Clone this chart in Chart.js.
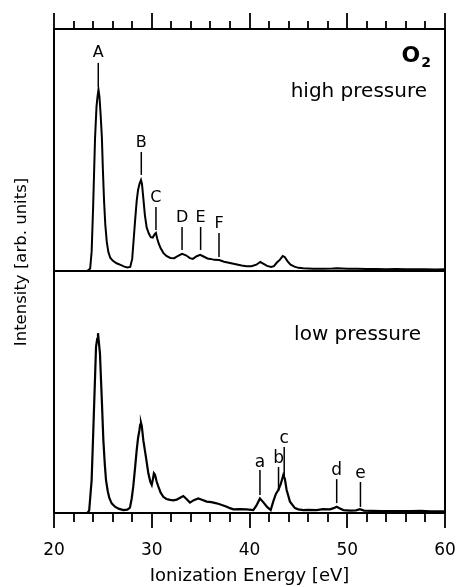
<!DOCTYPE html>
<html>
<head>
<meta charset="utf-8">
<style>
html,body{margin:0;padding:0;background:#fff;}
#wrap{width:458px;height:587px;position:relative;}
</style>
<script src="https://cdn.jsdelivr.net/npm/chart.js@4.4.0/dist/chart.umd.min.js"></script>
</head>
<body>
<div id="wrap"><canvas id="c" width="458" height="587"></canvas></div>
<script>
// ---- Data ----
const xTickValues = [20, 30, 40, 50, 60];

const highE = [20.0,23.4,23.7,23.85,24.0,24.2,24.35,24.45,24.55,24.65,24.75,24.9,25.0,25.12,25.25,25.4,25.55,25.75,26.0,26.4,26.8,27.2,27.5,27.8,28.0,28.15,28.3,28.46,28.6,28.75,28.9,29.0,29.14,29.3,29.48,29.7,29.9,30.1,30.3,30.43,30.55,30.7,30.9,31.2,31.5,31.9,32.3,32.7,33.1,33.5,33.9,34.2,34.6,34.95,35.3,35.7,36.0,36.4,36.9,37.4,38.0,38.6,39.2,39.7,40.2,40.7,41.1,41.4,41.8,42.2,42.5,42.8,43.1,43.4,43.6,43.9,44.2,44.6,45.0,45.5,46.5,47.5,48.5,49.0,50,51,52,53,54,55,56,57,58,59,60];
const highI = [0,0,1,8,26,55,68,72,75,72,66,55,42,29,19,12,8,5.5,4.3,3.2,2.5,1.8,1.5,1.7,5,13,21,29,33.5,36,37.6,36,30,23,18,15.5,14,13.8,15.2,15.7,13.5,11.5,9.5,7.4,6.2,5.4,5.3,6.3,7.1,6.5,5.3,5.0,6.1,6.7,6.0,5.2,5.0,4.6,4.5,3.8,3.3,2.8,2.3,2.0,2.0,2.6,3.7,3.0,2.1,1.7,2.0,3.5,4.6,6.2,5.8,4.0,2.6,1.8,1.3,1.1,0.9,0.9,1.0,1.1,0.9,0.9,0.8,0.8,0.7,0.8,0.7,0.7,0.7,0.6,0.7];

const lowE = [20,23.4,23.6,23.85,24.02,24.19,24.3,24.42,24.5,24.58,24.7,24.88,25.05,25.2,25.32,25.5,25.66,25.9,26.24,26.6,27.09,27.5,27.77,27.95,28.11,28.3,28.46,28.6,28.73,28.82,28.9,28.98,29.06,29.14,29.41,29.65,29.85,30.0,30.12,30.22,30.33,30.5,30.67,30.9,31.18,31.5,31.87,32.2,32.55,32.9,33.23,33.5,33.91,34.3,34.76,35.2,35.62,36.1,36.64,37.1,37.67,38.0,38.35,39,39.71,40.39,40.7,41.07,41.4,41.8,42.17,42.45,42.71,42.95,43.2,43.46,43.62,43.8,44.14,44.65,45.0,45.5,46,46.87,47.5,48.24,48.6,48.92,49.2,49.6,50.3,50.9,51.3,51.7,52.5,53.5,54.5,55.5,56.5,57.5,58.5,59.5,60];
const lowI = [0,0,1,13.6,34,55,68.7,72,74.3,71,66,48,30,20,13.6,9,6.2,4,2.6,1.8,1.2,1.4,2.2,6,11,19,26,31,34,36.5,37.3,36,33,30,23,16.4,13,11.6,14,16.4,15.8,13,11,8.5,6.7,5.8,5.4,5.2,5.5,6.3,7,6,4.3,5.3,6,5.4,4.7,4.5,4,3.4,2.6,2.0,1.5,1.6,1.5,1.2,3,6,4.5,2.5,1.2,5,8,9.5,12,15.7,14,9.5,4.7,2,1.5,1.2,1.3,1.2,1.6,1.5,2.0,2.6,2.0,1.2,1.0,1.1,1.6,1.0,0.9,0.8,0.8,0.8,0.8,0.9,0.7,0.7,0.7];

// Peak annotations: label, energy, text baseline, line top, line bottom (intensity units)
const highLabels = ['A','B','C','D','E','F'];
const highLabelE = [24.53, 28.93, 30.43, 33.1, 35.0, 36.88];
const highLabelText = [88.4, 51.4, 28.6, 20.4, 20.4, 17.6];
const highLineTop = [86, 49.2, 26.4, 18.2, 18.2, 15.7];
const highLineBot = [76, 39.7, 16.9, 8.7, 8.7, 5.8];

const lowLabels = ['a','b','c','d','e'];
const lowLabelE = [41.07, 42.97, 43.55, 48.92, 51.35];
const lowLabelText = [19.1, 20.5, 28.8, 15.7, 14.3];
const lowLineTop = [17.8, 19.0, 27.3, 14.0, 12.8];
const lowLineBot = [7.4, 9.1, 15.3, 4.1, 2.5];

const FONT = "'DejaVu Sans', sans-serif";

function pts(xs, ys){ return xs.map((x,i)=>({x:x, y:ys[i]})); }

const framePlugin = {
  id: 'frame',
  afterDraw(chart){
    const ctx = chart.ctx;
    const xs = chart.scales.x, yt = chart.scales.yTop, yb = chart.scales.yBot;
    const L = chart.chartArea.left, R = chart.chartArea.right;
    const top = yt.top, mid = yt.bottom, bot = yb.bottom;
    ctx.save();
    ctx.strokeStyle = '#000';
    ctx.lineWidth = 2;
    ctx.beginPath();
    ctx.moveTo(L, top); ctx.lineTo(R, top);
    ctx.moveTo(L, mid); ctx.lineTo(R, mid);
    ctx.moveTo(L, bot); ctx.lineTo(R, bot);
    ctx.moveTo(L, top); ctx.lineTo(L, bot);
    ctx.moveTo(R, top); ctx.lineTo(R, bot);
    ctx.stroke();
    // ticks every 2 eV, top (outward up) and bottom (outward down)
    ctx.lineWidth = 1.8;
    ctx.beginPath();
    for (let v = xs.min; v <= xs.max + 1e-9; v += 2) {
      const px = Math.round(xs.getPixelForValue(v));
      const major = Math.abs(v % 10) < 1e-9;
      ctx.moveTo(px, top); ctx.lineTo(px, top - (major ? 16 : 8));
      ctx.moveTo(px, bot); ctx.lineTo(px, bot + (major ? 15 : 9));
    }
    ctx.stroke();

    // annotations
    function ann(labels, es, tY, lt, lb, ys, size){
      ctx.font = size + 'px ' + FONT;
      ctx.textAlign = 'center';
      ctx.textBaseline = 'alphabetic';
      ctx.fillStyle = '#000';
      ctx.lineWidth = 1.5;
      for (let i = 0; i < labels.length; i++) {
        const px = xs.getPixelForValue(es[i]);
        ctx.fillText(labels[i], px, ys.getPixelForValue(tY[i]));
        ctx.beginPath();
        ctx.moveTo(px, ys.getPixelForValue(lt[i]));
        ctx.lineTo(px, ys.getPixelForValue(lb[i]));
        ctx.stroke();
      }
    }
    ann(highLabels, highLabelE, highLabelText, highLineTop, highLineBot, yt, 16);
    ann(lowLabels, lowLabelE, lowLabelText, lowLineTop, lowLineBot, yb, 17);

    // panel texts
    ctx.fillStyle = '#000';
    ctx.textAlign = 'right';
    ctx.textBaseline = 'alphabetic';
    ctx.font = 'bold 14px ' + FONT;
    ctx.fillText('2', 431, 67);
    const w2 = ctx.measureText('2').width;
    ctx.font = 'bold 22px ' + FONT;
    ctx.fillText('O', 431 - w2 - 1, 62);
    ctx.font = '20px ' + FONT;
    ctx.fillText('high pressure', 427, 97);
    ctx.fillText('low pressure', 421, 340);

    // y-axis title
    ctx.save();
    ctx.translate(26, 262);
    ctx.rotate(-Math.PI / 2);
    ctx.textAlign = 'center';
    ctx.textBaseline = 'alphabetic';
    ctx.font = '16.5px ' + FONT;
    ctx.fillText('Intensity [arb. units]', 0, 0);
    ctx.restore();
    ctx.restore();
  }
};

new Chart(document.getElementById('c'), {
  type: 'line',
  data: {
    datasets: [
      { label: 'high pressure', data: pts(highE, highI), xAxisID: 'x', yAxisID: 'yTop',
        borderColor: '#000', borderWidth: 2, pointRadius: 0, tension: 0, fill: false },
      { label: 'low pressure', data: pts(lowE, lowI), xAxisID: 'x', yAxisID: 'yBot',
        borderColor: '#000', borderWidth: 2.2, pointRadius: 0, tension: 0, fill: false }
    ]
  },
  options: {
    responsive: false,
    animation: false,
    events: [],
    layout: { padding: { top: 29, left: 54, right: 13, bottom: 0 } },
    plugins: { legend: { display: false }, tooltip: { enabled: false }, title: { display: false } },
    scales: {
      x: {
        type: 'linear', position: 'bottom', min: 20, max: 60,
        afterBuildTicks: (s) => { s.ticks = xTickValues.map(v => ({ value: v })); },
        ticks: { color: '#000', font: { family: FONT, size: 17 }, padding: 0, autoSkip: false, maxRotation: 0 },
        grid: { display: true, drawOnChartArea: false, drawTicks: true, tickLength: 27, color: 'rgba(0,0,0,0)' },
        border: { display: false },
        title: { display: true, text: 'Ionization Energy [eV]', color: '#000',
                 font: { family: FONT, size: 18 }, padding: { top: 5, bottom: 0 } }
      },
      yTop: { type: 'linear', position: 'left', min: 0, max: 100, stack: 'panels', stackWeight: 1, weight: 2, display: false },
      yBot: { type: 'linear', position: 'left', min: 0, max: 100, stack: 'panels', stackWeight: 1, weight: 1, display: false }
    }
  },
  plugins: [framePlugin]
});
</script>
</body>
</html>
